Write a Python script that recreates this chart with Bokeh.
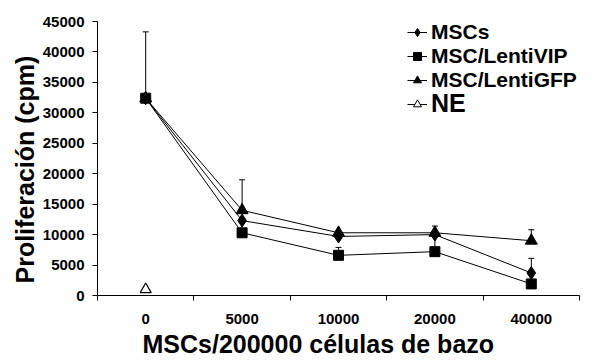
from bokeh.plotting import figure
from bokeh.models import (ColumnDataSource, FixedTicker, Whisker, TeeHead, Legend, LegendItem, Range1d, Title)
from bokeh.embed import file_html
from bokeh.resources import INLINE

categories = ["0", "5000", "10000", "20000", "40000"]
msc = [32400, 12300, 9700, 10000, 3700]
vip = [32400, 10300, 6600, 7200, 1900]
gfp = [32400, 14000, 10300, 10300, 9000]
ne_cat = ["0"]
ne = [1000]
msc_err = [10900, 0, 0, 0, 2400]
vip_err = [0, 0, 1300, 2800, 0]
gfp_err = [0, 5000, 0, 1100, 1800]
y_ticks = [0, 5000, 10000, 15000, 20000, 25000, 30000, 35000, 40000, 45000]

FONT = "Liberation Sans"
xpos = {c: i + 0.5 for i, c in enumerate(categories)}
xs = [xpos[c] for c in categories]
ne_x = [xpos[c] for c in ne_cat]

p = figure(frame_width=482, frame_height=274, output_backend="svg", toolbar_location=None,
           x_range=Range1d(0, len(categories)), y_range=Range1d(0, 45000),
           min_border_left=97, min_border_right=16, min_border_top=21, min_border_bottom=66)
p.outline_line_color = None
p.grid.visible = False
p.background_fill_color = "white"
p.border_fill_color = "white"

# axes
p.xaxis.ticker = FixedTicker(ticks=xs, minor_ticks=list(range(len(categories) + 1)))
p.xaxis.major_label_overrides = {xpos[c]: c for c in categories}
p.xaxis.major_tick_line_color = None
p.xaxis.major_tick_out = 0
p.xaxis.major_tick_in = 0
p.xaxis.minor_tick_line_color = "black"
p.xaxis.minor_tick_out = 5
p.xaxis.minor_tick_in = 0
p.xaxis.axis_line_color = "black"
p.xaxis.major_label_text_color = "black"
p.xaxis.major_label_text_font = FONT
p.xaxis.major_label_text_font_style = "bold"
p.xaxis.major_label_text_font_size = "15px"
p.xaxis.major_label_standoff = 13

p.yaxis.ticker = FixedTicker(ticks=y_ticks, minor_ticks=[])
p.yaxis.major_tick_out = 5
p.yaxis.major_tick_in = 0
p.yaxis.major_tick_line_color = "black"
p.yaxis.minor_tick_line_color = None
p.yaxis.axis_line_color = "black"
p.yaxis.major_label_text_color = "black"
p.yaxis.major_label_text_font = FONT
p.yaxis.major_label_text_font_style = "bold"
p.yaxis.major_label_text_font_size = "15px"
p.yaxis.major_label_standoff = 8

title_style = dict(text_color="black", text_font=FONT, text_font_style="bold",
                   text_font_size="25px", align="left", standoff=2)
p.add_layout(Title(text="MSCs/200000 células de bazo", offset=45, **title_style), "below")
p.add_layout(Title(text="Proliferación (cpm)", offset=12, **title_style), "left")

# error bars (upper only)
def add_err(vals, errs):
    bx = [xpos[c] for c, e in zip(categories, errs) if e > 0]
    base = [v for v, e in zip(vals, errs) if e > 0]
    up = [v + e for v, e in zip(vals, errs) if e > 0]
    src = ColumnDataSource(dict(x=bx, lower=base, upper=up))
    w = Whisker(source=src, base="x", lower="lower", upper="upper", dimension="height",
                line_color="black", line_width=1,
                upper_head=TeeHead(size=6, line_color="black", line_width=1), lower_head=None)
    p.add_layout(w)

add_err(msc, msc_err)
add_err(vip, vip_err)
add_err(gfp, gfp_err)

p.line(xs, gfp, line_color="black", line_width=1)
p.line(xs, msc, line_color="black", line_width=1)
p.line(xs, vip, line_color="black", line_width=1)
p.scatter(xs, gfp, marker="triangle", size=12, fill_color="black", line_color="black")
p.scatter(xs, msc, marker="diamond", size=13, fill_color="black", line_color="black")
p.scatter(xs, vip, marker="square", size=10, fill_color="black", line_color="black")
p.scatter(ne_x, ne, marker="triangle", size=11, fill_color="white", line_color="black", line_width=1.2)

# hidden proxies used only for the small legend glyphs
lm1 = p.scatter(xs, msc, marker="diamond", size=9, fill_color="black", line_color="black", visible=False)
lm2 = p.scatter(xs, vip, marker="square", size=7, fill_color="black", line_color="black", visible=False)
lm3 = p.scatter(xs, gfp, marker="triangle", size=8, fill_color="black", line_color="black", visible=False)
ll1 = p.line(xs, msc, line_color="black", line_width=1, visible=False)
ll2 = p.line(xs, vip, line_color="black", line_width=1, visible=False)
ll3 = p.line(xs, gfp, line_color="black", line_width=1, visible=False)
ll4 = p.line(ne_x, ne, line_color="black", line_width=1, visible=False)
lm4 = p.scatter(ne_x, ne, marker="triangle", size=8, fill_color="white", line_color="black", visible=False)

common = dict(border_line_color=None, background_fill_alpha=0, padding=0, margin=0, spacing=0,
              glyph_width=20, glyph_height=20, label_height=20, label_standoff=4,
              inactive_fill_alpha=0, label_text_color="black",
              label_text_font=FONT, label_text_font_style="bold")
entries = [("MSCs", [ll1, lm1], 251, "21px"),
           ("MSC/LentiVIP", [ll2, lm2], 227, "21px"),
           ("MSC/LentiGFP", [ll3, lm3], 203, "21px"),
           ("NE", [ll4, lm4], 177, "25px")]
for label, rends, vy, fs in entries:
    leg = Legend(items=[LegendItem(label=label, renderers=rends)], location=(310, vy),
                 label_text_font_size=fs, **common)
    p.add_layout(leg)

open("out.html", "w").write(file_html(p, INLINE))
